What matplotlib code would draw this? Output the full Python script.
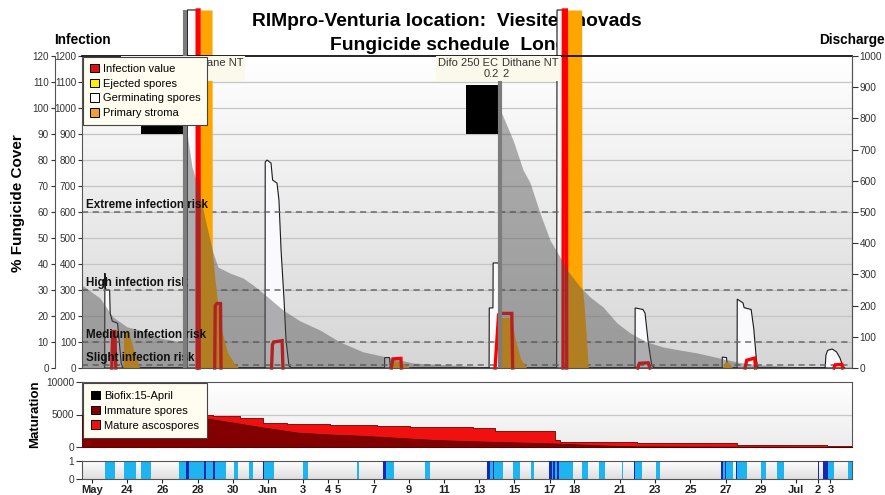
import numpy as np
import matplotlib
matplotlib.use('Agg')
import matplotlib.pyplot as plt
from matplotlib.patches import Patch
from matplotlib.colors import LinearSegmentedColormap

plt.rcParams['font.family'] = ['Liberation Sans', 'DejaVu Sans']

# ---------------- data (x = days since 22 May) ----------------
tick_days = [0, 2, 4, 6, 8, 10, 12, 13.4, 13.95, 16, 18, 20, 22, 24, 26, 27.4,
             30, 32, 34, 36, 38, 40, 41.25, 41.95]
tick_labels = ['May', '24', '26', '28', '30', 'Jun', '3', '4', '5', '7', '9', '11',
               '13', '15', '17', '18', '21', '23', '25', '27', '29', 'Jul', '2', '3']

risk_levels = [600, 300, 100, 12]
risk_labels = ['Extreme infection risk', 'High infection risk',
               'Medium infection risk', 'Slight infection risk']

# fungicide cover (%)
cover_day = [-0.57, 0.45, 1.19, 1.99, 2.73, 3.86, 5.11, 5.26, 5.26, 5.45, 5.68, 5.97,
             6.53, 6.88, 7.16, 7.84, 8.58, 9.15, 9.72, 10.85, 11.82, 12.95, 14.09,
             15.40, 16.76, 18.24, 20.17, 22.61, 23.2, 23.2, 23.92, 24.49, 24.89,
             25.45, 26.02, 26.59, 26.99, 27.73, 28.30, 29.03, 29.83, 30.57, 31.53,
             32.44, 33.41, 34.38, 35.68, 36.65, 37.78, 39.09, 40.97, 43.18]
cover_pct = [31.9, 26.9, 19.6, 15.8, 14.6, 11.5, 10.0, 9.8, 100, 87.7, 77.3, 71.2,
             54.2, 44.2, 38.8, 36.5, 34.6, 31.9, 28.8, 22.3, 18.1, 14.6, 10.0,
             6.2, 4.2, 1.9, 1.2, 0.4, 0.3, 99.2, 87.7, 76.2, 71.2,
             59.6, 49.2, 42.7, 37.7, 31.2, 27.3, 23.5, 17.3, 13.5, 10.0,
             8.1, 6.9, 5.8, 3.8, 2.3, 1.2, 0.8, 0.4, 0.4]

# germinating spores
germ_day = [0.72, 0.73, 0.76, 0.80, 1.00, 1.03, 1.15, 1.45, 1.55, 1.65, 1.75,
            5.40, 5.42, 5.93, 5.95,
            6.45, 6.47, 6.55, 6.72, 6.80, 6.90, 6.95,
            9.83, 9.84, 9.94, 10.17, 10.26, 10.51, 10.62, 10.74, 10.91, 11.02, 11.19, 11.36,
            16.62, 16.63, 16.90, 16.95,
            22.56, 22.57, 22.78, 22.79, 23.07, 23.15, 23.20,
            26.40, 26.42, 26.74, 26.76,
            26.98, 26.99, 27.02, 27.60, 27.65,
            30.85, 30.86, 31.30, 31.42, 31.60, 31.80, 32.00,
            35.80, 35.81, 36.05, 36.10,
            36.65, 36.66, 36.99, 37.05, 37.45, 37.60, 37.75, 37.84,
            41.65, 41.70, 41.80, 42.05, 42.30, 42.50, 42.65, 42.78]
germ_val = [0, 365, 310, 300, 300, 210, 180, 172, 100, 20, 0,
            0, 1377, 1377, 0,
            0, 200, 245, 245, 150, 30, 0,
            0, 792, 800, 788, 723, 711, 646, 454, 262, 108, 8, 0,
            0, 40, 40, 0,
            0, 231, 231, 404, 404, 385, 0,
            0, 1377, 1377, 0,
            0, 365, 40, 25, 0,
            0, 231, 225, 211, 100, 10, 0,
            0, 42, 40, 0,
            0, 265, 250, 232, 225, 150, 30, 0,
            0, 50, 68, 73, 62, 38, 8, 0]

# infection value
inf_day = [1.12, 1.17, 1.30, 1.35, 5.97, 5.98, 6.08, 6.09, 6.97, 7.00, 7.10,
           7.30, 7.33, 10.20, 10.25, 10.32, 10.80, 10.85, 17.00, 17.10, 17.55, 17.58,
           22.90, 23.10, 23.25, 23.85, 23.90, 26.76, 26.78, 26.95, 26.97,
           31.00, 31.10, 31.60, 31.70, 37.10, 37.20, 37.65, 37.70,
           42.15, 42.22, 42.60, 42.65]
inf_val = [0, 140, 140, 0, 0, 1377, 1377, 0, 0, 240, 248,
           248, 0, 0, 90, 100, 105, 0, 0, 35, 37, 0,
           0, 205, 210, 210, 0, 0, 1377, 1377, 0,
           0, 18, 20, 0, 0, 30, 38, 0,
           0, 12, 14, 0]

# primary stroma
stroma_day = [1.70, 1.75, 1.80, 2.05, 2.40, 2.70,
              6.13, 6.14, 6.82, 6.83, 7.00, 7.30, 7.70, 8.10, 8.35,
              16.95, 17.05, 17.50, 17.90, 18.10,
              23.10, 23.15, 23.80, 24.05, 24.35, 24.70,
              26.98, 26.99, 27.82, 27.84, 27.95, 28.20,
              35.85, 35.95, 36.20, 36.40]
stroma_val = [0, 0, 140, 145, 60, 0,
              0, 1377, 1377, 450, 330, 160, 60, 15, 0,
              0, 28, 25, 8, 0,
              0, 195, 195, 110, 35, 0,
              0, 1377, 1377, 320, 250, 0,
              0, 25, 20, 0]

# spray events, product labels, black blocks
spray_day = [5.26, 23.2]
spray_top = [1377, 1200]
spray_products = [('Difo 250 EC\n0.2', 'Dithane NT\n2'), ('Difo 250 EC\n0.2', 'Dithane NT\n2')]
block_start = [2.78, 21.25]
block_end = [5.17, 23.18]
block_low = [900, 900]
block_high = [1088, 1088]

# maturation
mat_total_day = [-0.57, 6.48, 6.88, 8.41, 9.72, 11.08, 13.52, 16.19, 18.07, 21.65,
                 22.90, 26.31, 26.59, 30.97, 36.65, 41.76, 43.18]
mat_total_val = [5200, 5000, 4700, 4500, 3750, 3600, 3450, 3300, 3100, 2950,
                 2500, 1100, 800, 600, 300, 100, 100]
mat_imm_day = [-0.57, 6.48, 8.0, 9.83, 11.7, 13.6, 15.5, 17.4, 19.3, 20.2, 22.6,
               25.5, 26.6, 29.3, 31.1, 36.0, 43.18]
mat_imm_val = [5000, 4400, 3750, 2950, 2200, 1900, 1700, 1400, 1100, 1000, 800,
               600, 500, 200, 100, 50, 20]

# leaf wetness
wet_light_start = [0.74, 1.82, 2.78, 4.94, 5.51, 6.48, 6.99, 8.07, 8.92, 9.77, 11.99,
                   15.06, 16.70, 18.92, 22.61, 22.84, 23.92, 24.94, 26.14, 26.31,
                   26.53, 27.84, 28.81, 30.11, 30.85, 32.05, 35.85, 36.02, 36.65,
                   38.01, 38.92, 41.82, 42.95]
wet_light_end = [1.31, 2.50, 3.35, 5.34, 6.36, 6.88, 7.61, 8.30, 9.15, 10.34, 12.27,
                 15.17, 17.16, 19.20, 22.78, 23.35, 24.32, 25.11, 26.19, 26.42,
                 27.33, 28.18, 29.15, 30.17, 31.25, 32.27, 35.97, 36.42, 37.22,
                 38.30, 39.32, 42.16, 43.18]
wet_dark_start = [5.34, 6.36, 6.88, 9.72, 16.53, 22.44, 22.78, 25.97, 26.19, 26.42,
                  30.80, 35.74, 35.97, 36.59, 41.25, 41.53]
wet_dark_end = [5.51, 6.48, 6.99, 9.77, 16.70, 22.61, 22.84, 26.14, 26.31, 26.53,
                30.85, 35.85, 36.02, 36.65, 41.31, 41.82]

# ---------------- figure ----------------
W, H = 885, 495
fig = plt.figure(figsize=(W / 100, H / 100), dpi=100)
XL = (-0.57, 43.18)


def box(l, t, r, b):
    return [l / W, 1 - b / H, (r - l) / W, (b - t) / H]


def gradient(axx, top, bottom):
    cm = LinearSegmentedColormap.from_list('g', [bottom, top])
    axx.imshow(np.linspace(1, 0, 256).reshape(-1, 1), cmap=cm, aspect='auto',
               extent=[0, 1, 0, 1], transform=axx.transAxes, zorder=0,
               interpolation='bilinear')


ax = fig.add_axes(box(82, 56, 852, 368))
gradient(ax, '#ffffff', '#d6d6d6')
ax.set_xlim(*XL)
ax.set_ylim(0, 1200)

for v in range(100, 1200, 100):
    ax.axhline(v, color='#c4c4c4', lw=0.9, zorder=0.5)
for v, lab in zip(risk_levels, risk_labels):
    ax.axhline(v, color='#6a6a6a', lw=1.1, ls=(0, (4, 3)), zorder=2.1)
    ax.text(-0.35, v + 3, lab, fontsize=8.4, fontweight='bold', color='#111',
            va='bottom', ha='left', zorder=3.65)

gd = np.array(germ_day)
gv = np.array(germ_val)
ax.fill(np.r_[gd[0], gd, gd[-1]], np.r_[0, gv, 0], facecolor='#fafafd',
        edgecolor='#1a1a1a', lw=0.8, zorder=2, clip_on=False)
ax.fill_between(stroma_day, 0, stroma_val, color='#ffa500', lw=0, zorder=2.2,
                clip_on=False)

# infection value: draw each event separately (no line along the zero baseline)
ix, iy = [], []
for i, (d, v) in enumerate(zip(inf_day, inf_val)):
    ix.append(d)
    iy.append(v)
    if i < len(inf_val) - 1 and v == 0 and inf_val[i + 1] == 0:
        ix.append(np.nan)
        iy.append(np.nan)
ax.plot(ix, iy, color='#ff0000', lw=2.4, zorder=2.4, clip_on=False,
        solid_joinstyle='miter')
ax.fill_between(cover_day, 0, np.array(cover_pct) * 10, color='#4e4e4e', alpha=0.44,
                lw=0, zorder=3)
ax.bar(block_start, np.array(block_high) - np.array(block_low), bottom=block_low,
       width=np.array(block_end) - np.array(block_start), align='edge',
       color='black', zorder=3.6)
ax.vlines(spray_day, 0, spray_top, color='#7c7c7c', lw=3, zorder=3.7, clip_on=False)

for d, (p1, p2) in zip(spray_day, spray_products):
    bb = dict(boxstyle='square,pad=0.2', fc='#fbf9ea', ec='none')
    ax.text(d - 0.1, 1192, p1, ha='right', va='top', fontsize=8, color='#333',
            bbox=bb, zorder=6, linespacing=1.1, multialignment='right')
    ax.text(d + 0.12, 1192, p2, ha='left', va='top', fontsize=8, color='#333',
            bbox=bb, zorder=6, linespacing=1.1)

leg = ax.legend(handles=[Patch(fc='#e01010', ec='black', lw=0.7, label='Infection value'),
                         Patch(fc='#ffee00', ec='black', lw=0.7, label='Ejected spores'),
                         Patch(fc='white', ec='black', lw=0.7, label='Germinating spores'),
                         Patch(fc='#f0a030', ec='black', lw=0.7, label='Primary stroma')],
                loc='upper left', bbox_to_anchor=(0, 1), borderaxespad=0.1,
                fontsize=8, frameon=True, fancybox=False, framealpha=1,
                facecolor='#fffdf0', edgecolor='#444', handlelength=0.8,
                handleheight=0.8, handletextpad=0.4, labelspacing=0.42, borderpad=0.6)
leg.set_zorder(10)
leg.get_frame().set_linewidth(0.8)

ax.set_xticks([])
ax.tick_params(axis='y', direction='out', length=3, width=0.8, colors='#333',
               labelsize=7.1, pad=1)
ax.set_yticks(range(0, 1201, 100))
for s in ['left', 'right', 'bottom']:
    ax.spines[s].set_color('#555')
ax.spines['top'].set_color('black')
ax.spines['top'].set_linewidth(1.2)

# outer left axis (% fungicide cover), spine 27 px left of the inner one
axl = ax.twinx()
axl.set_ylim(0, 120)
axl.yaxis.tick_left()
axl.yaxis.set_label_position('left')
axl.spines['left'].set_position(('outward', 27 * 72 / 100))
for s in ['right', 'top', 'bottom']:
    axl.spines[s].set_visible(False)
axl.spines['left'].set_color('#555')
axl.set_yticks(range(0, 121, 10))
axl.tick_params(axis='y', direction='out', length=3, width=0.8, colors='#333',
                labelsize=7.1, pad=1.5)

# right axis (discharge)
axr = ax.twinx()
axr.set_ylim(0, 1000)
axr.set_yticks(range(0, 1001, 100))
for s in ['left', 'top', 'bottom']:
    axr.spines[s].set_visible(False)
axr.spines['right'].set_color('#555')
axr.tick_params(axis='y', direction='out', length=4, width=0.8, colors='#333',
                labelsize=7.3, pad=1.5)

# ---------------- maturation ----------------
axm = fig.add_axes(box(82, 382, 852, 447))
gradient(axm, '#ffffff', '#ececec')
axm.set_xlim(*XL)
axm.set_ylim(0, 10000)
axm.axhline(5000, color='#c8c8c8', lw=0.9, zorder=0.5)
axm.fill_between(mat_total_day, 0, mat_total_val, step='post', color='#f01010',
                 edgecolor='#700000', lw=0.6, zorder=2)
axm.fill_between(mat_imm_day, 0, mat_imm_val, color='#820000', edgecolor='#500000',
                 lw=0.6, zorder=3)
axm.set_xticks([])
axm.set_yticks([0, 5000, 10000])
axm.tick_params(axis='y', direction='out', length=4, width=0.8, colors='#333',
                labelsize=7.3, pad=1.5)
for s in axm.spines.values():
    s.set_color('#555')
leg2 = axm.legend(handles=[Patch(fc='black', ec='black', lw=0.7, label='Biofix:15-April'),
                           Patch(fc='#820000', ec='black', lw=0.7, label='Immature spores'),
                           Patch(fc='#f01010', ec='black', lw=0.7, label='Mature ascospores')],
                  loc='upper left', bbox_to_anchor=(0, 1), borderaxespad=0.1,
                  fontsize=8, frameon=True, fancybox=False, framealpha=1,
                  facecolor='#fffdf0', edgecolor='#444', handlelength=0.8,
                  handleheight=0.8, handletextpad=0.4, labelspacing=0.42, borderpad=0.7)
leg2.set_zorder(10)
leg2.get_frame().set_linewidth(0.8)

# ---------------- wetness ----------------
axw = fig.add_axes(box(82, 461, 852, 479))
gradient(axw, '#ffffff', '#dedede')
axw.set_xlim(*XL)
axw.set_ylim(0, 1)
axw.bar(wet_light_start, 1, width=np.array(wet_light_end) - np.array(wet_light_start),
        align='edge', color='#1eb4f0', lw=0, zorder=2)
axw.bar(wet_dark_start, 1, width=np.array(wet_dark_end) - np.array(wet_dark_start),
        align='edge', color='#1428b4', lw=0, zorder=3)
axw.set_yticks([0, 1])
axw.tick_params(axis='y', direction='out', length=4, width=0.8, colors='#333',
                labelsize=7.3, pad=1.5)
axw.set_xticks(tick_days)
axw.set_xticklabels(tick_labels, fontweight='bold', fontsize=8)
axw.tick_params(axis='x', direction='out', length=3, width=0.8, colors='#222', pad=1)
for s in axw.spines.values():
    s.set_color('#555')

# ---------------- texts ----------------
fig.text(447 / W, 1 - 21 / H, 'RIMpro-Venturia location:  Viesites novads',
         ha='center', va='center', fontsize=13.9, fontweight='bold', zorder=-1)
fig.text(448 / W, 1 - 45 / H, 'Fungicide schedule  Lone', ha='center', va='center',
         fontsize=13.9, fontweight='bold', zorder=-1)
fig.text(82 / W, 1 - 40 / H, 'Infection', ha='center', va='center', fontsize=9.8,
         fontweight='bold')
fig.text(852 / W, 1 - 40 / H, 'Discharge', ha='center', va='center', fontsize=9.8,
         fontweight='bold')
fig.text(18 / W, 1 - 203 / H, '% Fungicide Cover', rotation=90, ha='center',
         va='center', fontsize=11, fontweight='bold')
fig.text(35 / W, 1 - 414 / H, 'Maturation', rotation=90, ha='center', va='center',
         fontsize=9.5, fontweight='bold')

fig.savefig('out.png', dpi=100)
